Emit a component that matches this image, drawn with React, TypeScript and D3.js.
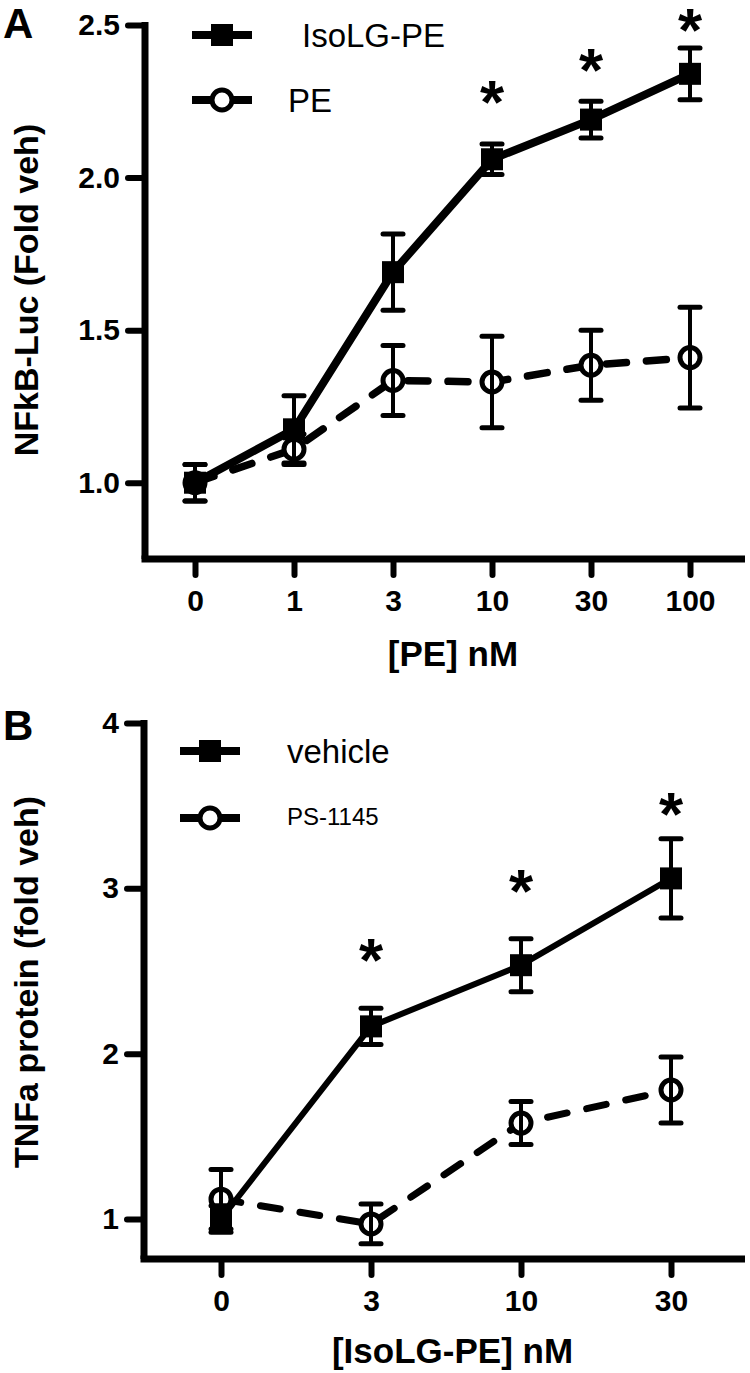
import React, { useEffect, useRef } from 'react';
import * as d3 from 'd3';

// ---------- Panel A data ----------
const catsA = ['0', '1', '3', '10', '30', '100'];
const isoMean = [1.0, 1.175, 1.69, 2.06, 2.19, 2.34];
const isoErr = [0.06, 0.11, 0.125, 0.05, 0.06, 0.085];
const peMean = [1.0, 1.11, 1.335, 1.33, 1.385, 1.41];
const peErr = [0.06, 0.05, 0.115, 0.15, 0.115, 0.165];
const starCatsA = ['10', '30', '100'];
const starValsA = [2.29, 2.395, 2.525];
const yTicksA = [1.0, 1.5, 2.0, 2.5];

// ---------- Panel B data ----------
const catsB = ['0', '3', '10', '30'];
const vehMean = [1.0, 2.165, 2.535, 3.06];
const vehErr = [0.08, 0.11, 0.16, 0.24];
const psMean = [1.12, 0.97, 1.58, 1.78];
const psErr = [0.18, 0.12, 0.13, 0.2];
const starCatsB = ['3', '10', '30'];
const starValsB = [2.645, 3.06, 3.53];
const yTicksB = [1, 2, 3, 4];

const FONT = "'Liberation Sans', Arial, Helvetica, sans-serif";

type PanelCfg = {
  cats: string[];
  xRange: [number, number];
  yDomain: [number, number];
  yRange: [number, number];
  axisX: number;
  axisEnd: number;
  yTicks: number[];
  yFormat: (v: number) => string;
  solid: number[];
  solidErr: number[];
  dashed: number[];
  dashedErr: number[];
  starCats: string[];
  starVals: number[];
  solidWidth: number;
  dashWidth: number;
  xTitle: string;
  xTitleY: number;
  yTitle: string;
  yTitleCY: number;
  label: string;
  labelY: number;
  legend: { y: number; text: string; x: number; size: number; base: number; kind: 'sq' | 'ci' }[];
  legendLine: [number, number];
};

function drawPanel(root: d3.Selection<SVGGElement, unknown, null, undefined>, c: PanelCfg) {
  const g = root.append('g');
  const x = d3.scalePoint<string>().domain(c.cats).range(c.xRange);
  const y = d3.scaleLinear().domain(c.yDomain).range(c.yRange);
  const y0 = c.yRange[0];

  // y axis
  const yAxis = d3
    .axisLeft(y)
    .tickValues(c.yTicks)
    .tickFormat((d: any) => c.yFormat(d as number))
    .tickSize(17)
    .tickPadding(8)
    .tickSizeOuter(0);
  const ya = g.append('g').attr('transform', `translate(${c.axisX},0)`).call(yAxis);
  ya.select('.domain').attr('stroke', '#000').attr('stroke-width', 7).attr('d', `M0,${y0}V${c.yRange[1] - 3}`);
  ya.selectAll('.tick line').attr('stroke', '#000').attr('stroke-width', 6).attr('stroke-linecap', 'round');
  ya.selectAll('.tick text')
    .attr('fill', '#000')
    .style('font-family', FONT)
    .style('font-weight', 'bold')
    .style('font-size', '30px');
  ya.attr('font-family', null).attr('font-size', null);

  // x axis
  const xAxis = d3.axisBottom(x).tickSize(16).tickPadding(15).tickSizeOuter(0);
  const xa = g.append('g').attr('transform', `translate(0,${y0})`).call(xAxis);
  xa.select('.domain').remove();
  xa.selectAll('.tick line').attr('stroke', '#000').attr('stroke-width', 6).attr('stroke-linecap', 'round');
  xa.selectAll('.tick text')
    .attr('fill', '#000')
    .style('font-family', FONT)
    .style('font-weight', 'bold')
    .style('font-size', '30px');
  xa.attr('font-family', null).attr('font-size', null);
  g.append('line')
    .attr('x1', c.axisX - 3.5)
    .attr('x2', c.axisEnd)
    .attr('y1', y0)
    .attr('y2', y0)
    .attr('stroke', '#000')
    .attr('stroke-width', 7);

  // titles
  g.append('text')
    .attr('x', (c.axisX + c.axisEnd) / 2 + 8)
    .attr('y', c.xTitleY)
    .attr('text-anchor', 'middle')
    .style('font-family', FONT)
    .style('font-weight', 'bold')
    .style('font-size', '35px')
    .text(c.xTitle);
  g.append('text')
    .attr('transform', `translate(38,${c.yTitleCY}) rotate(-90)`)
    .attr('text-anchor', 'middle')
    .style('font-family', FONT)
    .style('font-weight', 'bold')
    .style('font-size', '34px')
    .text(c.yTitle);
  g.append('text')
    .attr('x', 3)
    .attr('y', c.labelY)
    .style('font-family', FONT)
    .style('font-weight', 'bold')
    .style('font-size', '42px')
    .text(c.label);

  const line = d3
    .line<number>()
    .x((_, i) => x(c.cats[i]) as number)
    .y((d) => y(d));

  const errBars = (mean: number[], err: number[]) => {
    const eg = g.append('g').attr('stroke', '#000');
    mean.forEach((m, i) => {
      const cx = x(c.cats[i]) as number;
      const top = y(m + err[i]);
      const bot = y(m - err[i]);
      eg.append('line').attr('x1', cx).attr('x2', cx).attr('y1', top).attr('y2', bot).attr('stroke-width', 4);
      [top, bot].forEach((yy) =>
        eg
          .append('line')
          .attr('x1', cx - 10)
          .attr('x2', cx + 10)
          .attr('y1', yy)
          .attr('y2', yy)
          .attr('stroke-width', 5)
          .attr('stroke-linecap', 'round')
      );
    });
  };

  // dashed series (open circles)
  g.append('path')
    .attr('d', line(c.dashed) as string)
    .attr('fill', 'none')
    .attr('stroke', '#000')
    .attr('stroke-width', c.dashWidth)
    .attr('stroke-dasharray', '20 20')
    .attr('stroke-linecap', 'round');
  c.dashed.forEach((m, i) => {
    g.append('circle')
      .attr('cx', x(c.cats[i]) as number)
      .attr('cy', y(m))
      .attr('r', 10)
      .attr('fill', '#fff')
      .attr('stroke', '#000')
      .attr('stroke-width', 5);
  });
  errBars(c.dashed, c.dashedErr);

  // solid series (filled squares)
  g.append('path')
    .attr('d', line(c.solid) as string)
    .attr('fill', 'none')
    .attr('stroke', '#000')
    .attr('stroke-width', c.solidWidth)
    .attr('stroke-linejoin', 'round');
  errBars(c.solid, c.solidErr);
  c.solid.forEach((m, i) => {
    g.append('rect')
      .attr('x', (x(c.cats[i]) as number) - 11)
      .attr('y', y(m) - 11)
      .attr('width', 22)
      .attr('height', 22)
      .attr('fill', '#000');
  });

  // stars
  c.starCats.forEach((cat, i) => {
    g.append('text')
      .attr('x', x(cat) as number)
      .attr('y', y(c.starVals[i]) + 34)
      .attr('text-anchor', 'middle')
      .style('font-family', FONT)
      .style('font-weight', 'bold')
      .style('font-size', '62px')
      .text('*');
  });

  // legend
  const [lx1, lx2] = c.legendLine;
  const lcx = (lx1 + lx2) / 2;
  c.legend.forEach((L) => {
    g.append('line')
      .attr('x1', lx1)
      .attr('x2', lx2)
      .attr('y1', L.y)
      .attr('y2', L.y)
      .attr('stroke', '#000')
      .attr('stroke-width', 8);
    if (L.kind === 'sq') {
      g.append('rect').attr('x', lcx - 11).attr('y', L.y - 11).attr('width', 22).attr('height', 22).attr('fill', '#000');
    } else {
      g.append('circle')
        .attr('cx', lcx)
        .attr('cy', L.y)
        .attr('r', 10)
        .attr('fill', '#fff')
        .attr('stroke', '#000')
        .attr('stroke-width', 5);
    }
    g.append('text')
      .attr('x', L.x)
      .attr('y', L.base)
      .style('font-family', FONT)
      .style('font-size', `${L.size}px`)
      .text(L.text);
  });
}

export default function App() {
  const ref = useRef<SVGSVGElement>(null);
  useEffect(() => {
    const svg = d3.select(ref.current as SVGSVGElement);
    svg.selectAll('*').remove();
    const root = svg.append('g') as any;
    drawPanel(root, {
      cats: catsA,
      xRange: [195, 690],
      yDomain: [0.75, 2.5],
      yRange: [559, 25],
      axisX: 145,
      axisEnd: 745,
      yTicks: yTicksA,
      yFormat: d3.format('.1f'),
      solid: isoMean,
      solidErr: isoErr,
      dashed: peMean,
      dashedErr: peErr,
      starCats: starCatsA,
      starVals: starValsA,
      solidWidth: 8,
      dashWidth: 7.5,
      xTitle: '[PE] nM',
      xTitleY: 666,
      yTitle: 'NFkB-Luc (Fold veh)',
      yTitleCY: 290,
      label: 'A',
      labelY: 38,
      legendLine: [192, 252],
      legend: [
        { y: 35, text: 'IsoLG-PE', x: 302, size: 33, base: 47, kind: 'sq' },
        { y: 100, text: 'PE', x: 288, size: 33, base: 112, kind: 'ci' },
      ],
    });
    drawPanel(root, {
      cats: catsB,
      xRange: [221, 671],
      yDomain: [0.758, 4],
      yRange: [1259, 723],
      axisX: 144,
      axisEnd: 745,
      yTicks: yTicksB,
      yFormat: d3.format('d'),
      solid: vehMean,
      solidErr: vehErr,
      dashed: psMean,
      dashedErr: psErr,
      starCats: starCatsB,
      starVals: starValsB,
      solidWidth: 6,
      dashWidth: 7,
      xTitle: '[IsoLG-PE] nM',
      xTitleY: 1363,
      yTitle: 'TNFa protein (fold veh)',
      yTitleCY: 982,
      label: 'B',
      labelY: 740,
      legendLine: [180, 240],
      legend: [
        { y: 751, text: 'vehicle', x: 287, size: 33, base: 763, kind: 'sq' },
        { y: 818, text: 'PS-1145', x: 287, size: 24, base: 825, kind: 'ci' },
      ],
    });
  }, []);
  return (
    <svg
      ref={ref}
      width={750}
      height={1373}
      viewBox="0 0 750 1373"
      style={{ position: 'absolute', left: 0, top: 0, background: '#fff' }}
    />
  );
}
